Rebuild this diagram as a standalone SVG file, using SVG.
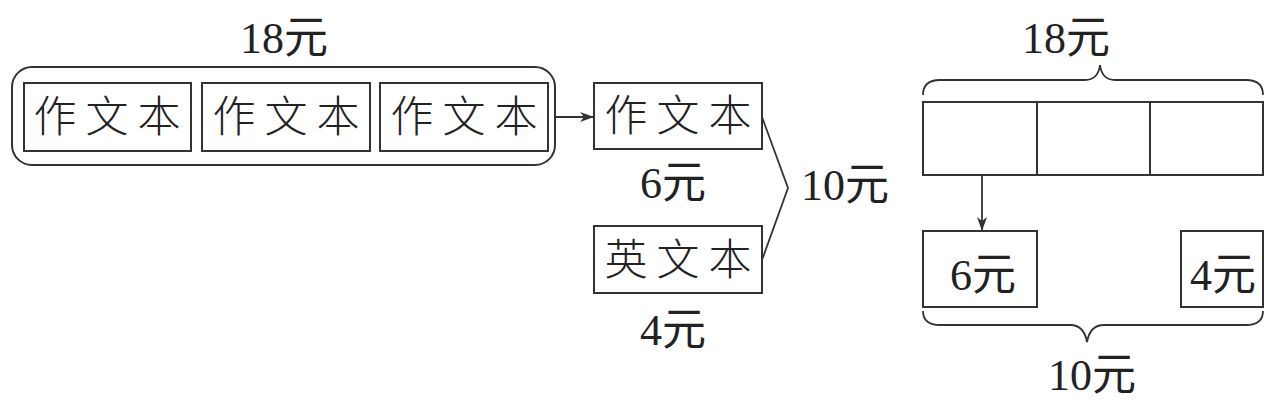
<svg xmlns="http://www.w3.org/2000/svg" width="1288" height="401" viewBox="0 0 1288 401">
<style>
.b{fill:none;stroke:#333;stroke-width:2}
.c{fill:none;stroke:#333;stroke-width:1.8}
.t{font-family:"Liberation Serif","Noto Sans CJK SC",serif;font-size:44px;fill:#222;text-anchor:middle}
.k{font-family:"Noto Sans CJK SC",sans-serif;font-size:43px;fill:#222;text-anchor:middle;font-weight:300}
</style>
<defs>
<marker id="ah" markerWidth="14" markerHeight="10" refX="13" refY="5" orient="auto" markerUnits="userSpaceOnUse">
<path d="M0,0 L14,5 L0,10 L4,5 Z" fill="#333"/>
</marker>
</defs>
<rect width="1288" height="401" fill="#fff"/>
<g id="group18">
<rect class="b" x="12" y="67" width="543" height="98" rx="20"/>
<text class="t" x="284" y="53">18元</text>
</g>
<g id="box1"><rect class="b" x="24" y="83" width="167" height="68"/><text class="k" x="55 107 159" y="132">作文本</text></g>
<g id="box2"><rect class="b" x="202" y="83" width="168" height="68"/><text class="k" x="234 286 338" y="132">作文本</text></g>
<g id="box3"><rect class="b" x="380" y="83" width="168" height="68"/><text class="k" x="412 464 516" y="132">作文本</text></g>
<g id="box4"><rect class="b" x="594" y="83" width="168" height="66"/><text class="k" x="626 678 730" y="131">作文本</text><text class="t" x="673" y="198">6元</text></g>
<g id="box5"><rect class="b" x="594" y="226" width="168" height="67"/><text class="k" x="626 678 730" y="275">英文本</text><text class="t" x="673" y="345">4元</text></g>
<g id="label10"><text class="t" x="845" y="200">10元</text></g>
<g id="bar">
<text class="t" x="1066" y="53">18元</text>
<path class="c" d="M923,95 Q923,80 940,80 L1085,80 Q1098,80 1100,65 Q1102,80 1115,80 L1246,80 Q1263,80 1263,95"/>
<rect class="b" x="923" y="102" width="340" height="73"/>
<line class="b" x1="1037" y1="102" x2="1037" y2="175"/>
<line class="b" x1="1150" y1="102" x2="1150" y2="175"/>
</g>
<g id="box6"><rect class="b" x="923" y="231" width="114" height="76"/><text class="t" x="983" y="290">6元</text></g>
<g id="box7"><rect class="b" x="1181" y="231" width="82" height="76"/><text class="t" x="1223" y="290">4元</text></g>
<g id="brace10">
<path class="c" d="M923,311 Q923,325 940,325 L1070,325 Q1084,325 1087,342 Q1090,325 1104,325 L1246,325 Q1263,325 1263,311"/>
<text class="t" x="1092" y="390">10元</text>
</g>
<g id="connectors">
<line class="c" x1="555" y1="117" x2="593" y2="117" marker-end="url(#ah)"/>
<polyline class="c" points="762,117 788,188 762,260"/>
<line class="c" x1="982" y1="175" x2="982" y2="230" marker-end="url(#ah)"/>
</g>
</svg>
